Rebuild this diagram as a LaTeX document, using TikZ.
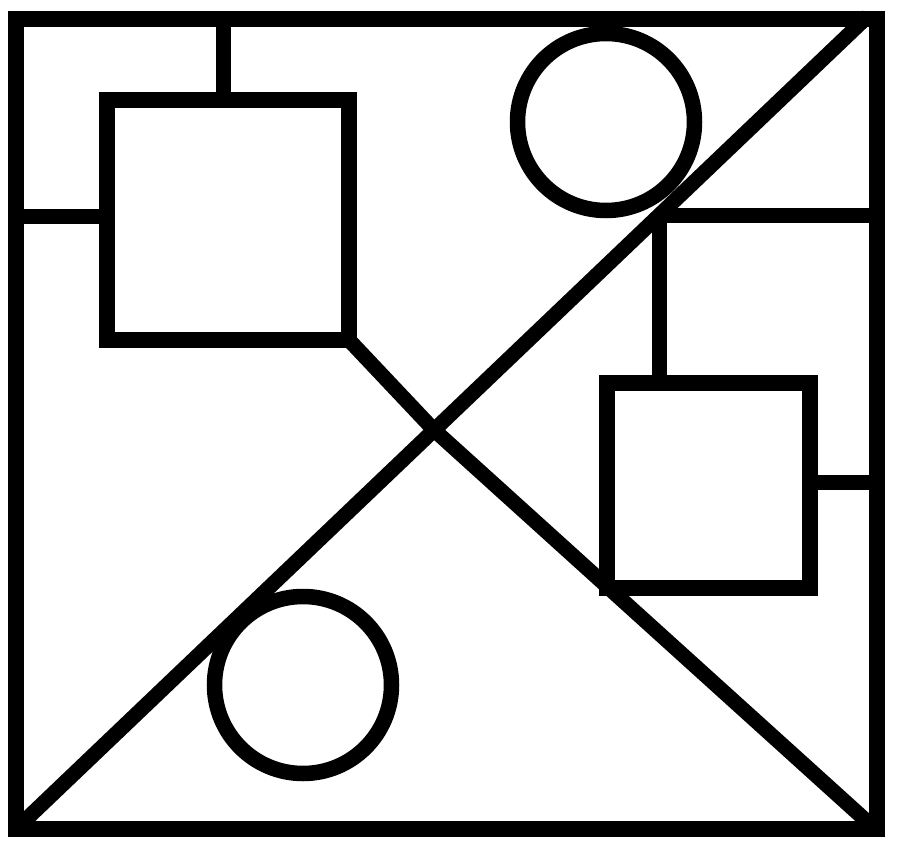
\documentclass[tikz,border=0pt]{standalone}
\begin{document}
\begin{tikzpicture}[x=1pt,y=-1pt,
  stroke/.style={line width=15.5pt,draw=black},
  box/.style={stroke,rectangle,line join=miter,inner sep=0pt,outer sep=0pt},
  ring/.style={stroke,circle,inner sep=0pt,outer sep=0pt,minimum size=177pt},
  link/.style={line width=15pt,draw=black,line cap=butt},
  diag/.style={line width=15pt,draw=black,line join=round}]
\useasboundingbox[fill=white] (0,0) rectangle (900,862);
% frame
\node[box,minimum width=861pt,minimum height=810pt] (frame) at (446.5,424) {};
% squares
\node[box,minimum width=242pt,minimum height=240pt] (sq1) at (228,220) {};
\node[box,minimum width=203pt,minimum height=205pt] (sq2) at (708.5,485.5) {};
% circles
\node[ring] (c1) at (606,122) {};
\node[ring] (c2) at (303,685) {};
% named points
\coordinate (t1) at (223.5,19);
\coordinate (l1) at (16,216.5);
\coordinate (j1) at (659,215);
\coordinate (r1) at (810,482);
\coordinate (d1end) at (868,16);
\coordinate (cross) at (433,429);
\coordinate (d2end) at (872,826);
% connectors
\draw[link] (t1) -- (t1 |- sq1.north);
\draw[link] (l1) -- (l1 -| sq1.west);
\draw[link] (j1) -- (j1 -| frame.east);
\draw[link] (j1) -- (j1 |- sq2.north);
\draw[link] (r1) -- (r1 -| frame.east);
% diagonals
\draw[diag] (frame.south west) -- (d1end);
\draw[diag,line cap=round] (sq1.south east) -- (cross) -- (d2end);
\end{tikzpicture}
\end{document}
